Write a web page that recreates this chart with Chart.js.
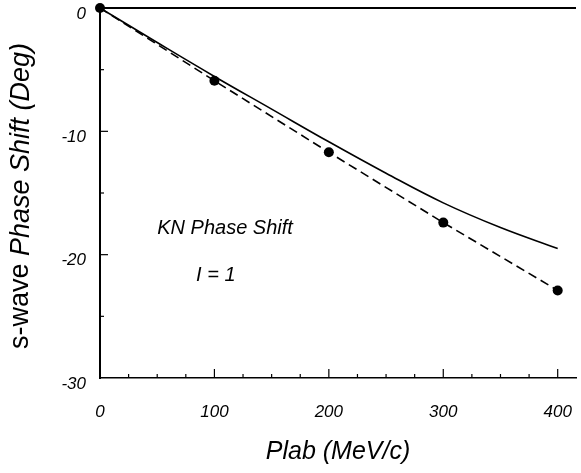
<!DOCTYPE html>
<html lang="en">
<head>
    <meta charset="UTF-8">
    <title>KN Phase Shift</title>
    <script src="https://cdn.jsdelivr.net/npm/chart.js"></script>
    <style>
        html, body { margin: 0; padding: 0; background: #fff; }
        #wrap { width: 581px; height: 473px; }
    </style>
</head>
<body>
    <div id="wrap"><canvas id="phaseChart"></canvas></div>

    <script>
        // Data
        const plabPoints = [0, 100, 200, 300, 400];
        const shiftPoints = [0, -5.9, -11.7, -17.4, -22.9];

        const plabCurve = [0, 50, 100, 150, 200, 250, 300, 350, 400];
        const shiftCurve = [0, -2.8, -5.55, -8.2, -10.85, -13.4, -15.8, -17.8, -19.5];

        const xTicks = [0, 100, 200, 300, 400];
        const yTicks = [0, -10, -20, -30];

        const FONT = '"Liberation Sans", Arial, sans-serif';

        // inward tick marks, top frame line, annotations and y title
        const decorations = {
            id: 'decorations',
            afterDraw(chart) {
                const ctx = chart.ctx;
                const x = chart.scales.x, y = chart.scales.y;
                const area = chart.chartArea;
                ctx.save();
                ctx.strokeStyle = '#000';
                ctx.lineWidth = 1.2;
                for (let v = 0; v <= 400; v += 25) {
                    const px = x.getPixelForValue(v);
                    const len = v % 100 === 0 ? 9 : 4;
                    ctx.beginPath();
                    ctx.moveTo(px, area.bottom);
                    ctx.lineTo(px, area.bottom - len);
                    ctx.stroke();
                }
                for (let v = -5; v > -30; v -= 5) {
                    const py = y.getPixelForValue(v);
                    const len = v % 10 === 0 ? 8 : 4;
                    ctx.beginPath();
                    ctx.moveTo(area.left, py);
                    ctx.lineTo(area.left + len, py);
                    ctx.stroke();
                }
                // top frame
                ctx.lineWidth = 2;
                ctx.beginPath();
                ctx.moveTo(area.left, area.top);
                ctx.lineTo(area.right, area.top);
                ctx.stroke();

                // annotations
                ctx.fillStyle = '#000';
                ctx.textBaseline = 'middle';
                ctx.textAlign = 'left';
                ctx.font = 'italic 20px ' + FONT;
                ctx.fillText('KN Phase Shift', x.getPixelForValue(50), y.getPixelForValue(-17.9));
                ctx.fillText('I = 1', x.getPixelForValue(84), y.getPixelForValue(-21.7));

                // y axis title, "s-wave" upright, rest italic
                const part1 = 's-wave ';
                const part2 = 'Phase Shift (Deg)';
                ctx.font = '27px ' + FONT;
                const w1 = ctx.measureText(part1).width;
                ctx.font = 'italic 27px ' + FONT;
                const w2 = ctx.measureText(part2).width;
                ctx.translate(21, 196);
                ctx.rotate(-Math.PI / 2);
                const start = -(w1 + w2) / 2;
                ctx.font = '27px ' + FONT;
                ctx.fillText(part1, start, 0);
                ctx.font = 'italic 27px ' + FONT;
                ctx.fillText(part2, start + w1, 0);
                ctx.restore();
            }
        };

        new Chart(document.getElementById('phaseChart'), {
            type: 'line',
            data: {
                datasets: [{
                    label: 'Calculation',
                    data: plabCurve.map((p, i) => ({ x: p, y: shiftCurve[i] })),
                    borderColor: '#000',
                    borderWidth: 1.6,
                    pointRadius: 0,
                    tension: 0.4,
                    fill: false
                }, {
                    label: 'Data',
                    data: plabPoints.map((p, i) => ({ x: p, y: shiftPoints[i] })),
                    borderColor: '#000',
                    backgroundColor: '#000',
                    borderWidth: 1.6,
                    borderDash: [9, 5],
                    pointRadius: 5,
                    pointBorderWidth: 0,
                    tension: 0,
                    fill: false,
                    clip: false
                }]
            },
            options: {
                responsive: true,
                maintainAspectRatio: false,
                animation: false,
                layout: { padding: { top: 8, right: 0, left: 0, bottom: 0 } },
                plugins: {
                    legend: { display: false },
                    tooltip: { enabled: false }
                },
                scales: {
                    x: {
                        type: 'linear',
                        min: 0,
                        max: 416,
                        afterBuildTicks: s => { s.ticks = xTicks.map(v => ({ value: v })); },
                        afterFit: s => { s.height = 95; s.paddingLeft = 0; s.paddingRight = 0; },
                        grid: { display: true, drawOnChartArea: false, drawTicks: false },
                        border: { display: true, color: '#000', width: 1.6 },
                        ticks: {
                            color: '#000',
                            padding: 24,
                            maxRotation: 0,
                            font: { family: FONT, size: 17, style: 'italic' }
                        },
                        title: {
                            display: true,
                            text: 'Plab (MeV/c)',
                            color: '#000',
                            padding: { top: 0, bottom: 6 },
                            font: { family: FONT, size: 25, style: 'italic' }
                        }
                    },
                    y: {
                        min: -30,
                        max: 0,
                        afterBuildTicks: s => { s.ticks = yTicks.map(v => ({ value: v })); },
                        afterFit: s => { s.width = 100; s.paddingTop = 0; s.paddingBottom = 0; },
                        grid: { display: true, drawOnChartArea: false, drawTicks: false },
                        border: { display: true, color: '#000', width: 2 },
                        ticks: {
                            color: '#000',
                            padding: 14,
                            labelOffset: 6,
                            font: { family: FONT, size: 17, style: 'italic' }
                        }
                    }
                }
            },
            plugins: [decorations]
        });
    </script>
</body>
</html>
